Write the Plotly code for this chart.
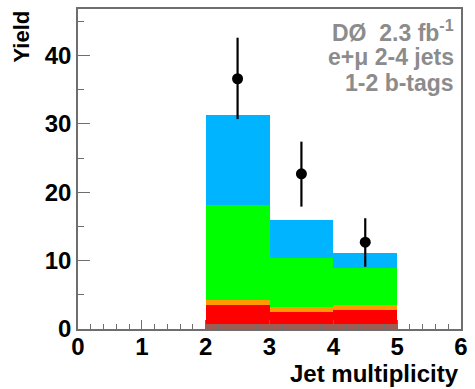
import plotly.graph_objects as go

# Jet multiplicity bins (centres) and bin width
bin_centres = [2.5, 3.5, 4.5]
bin_width = 1.0

# Stacked background/signal components, bottom to top
brown_vals = [0.7, 0.7, 0.7]
red_vals = [2.8, 1.8, 2.15]
orange_vals = [0.7, 0.7, 0.65]
green_vals = [13.9, 7.2, 5.4]
blue_vals = [13.2, 5.6, 2.2]

# Observed data with asymmetric uncertainties
data_vals = [36.6, 22.7, 12.7]
err_up = [6.0, 4.7, 3.5]
err_down = [5.9, 4.8, 3.6]

x_ticks = [0, 1, 2, 3, 4, 5, 6]
y_ticks = [0, 10, 20, 30, 40]

components = [
    (brown_vals, "#9c5d55"),
    (red_vals, "#ff0000"),
    (orange_vals, "#ff9a00"),
    (green_vals, "#00ff00"),
    (blue_vals, "#00b4ff"),
]

fig = go.Figure()
for vals, col in components:
    fig.add_trace(go.Bar(
        x=bin_centres, y=vals, width=bin_width,
        marker=dict(color=col, line=dict(width=0)),
        showlegend=False,
    ))

fig.add_trace(go.Scatter(
    x=bin_centres, y=data_vals, mode="markers",
    marker=dict(color="black", size=11),
    error_y=dict(type="data", array=err_up, arrayminus=err_down,
                 color="black", thickness=2.2, width=0),
    showlegend=False,
))

font_fam = "Liberation Sans, Arial, sans-serif"
axis_col = "#6e6e6e"

fig.update_layout(
    barmode="stack",
    bargap=0,
    width=475, height=389,
    margin=dict(l=78, r=8, t=7, b=60),
    paper_bgcolor="white",
    plot_bgcolor="white",
    font=dict(family=font_fam, color="black"),
    xaxis=dict(
        range=[0, 6], tickvals=x_ticks, ticktext=[str(v) for v in x_ticks],
        ticks="inside", ticklen=9, tickwidth=1.2, tickcolor=axis_col,
        minor=dict(ticks="inside", dtick=0.2, ticklen=5, tickcolor=axis_col),
        showline=True, linecolor=axis_col, linewidth=1.5, mirror=True,
        showgrid=False, zeroline=False, ticklabelstandoff=-5,
        tickfont=dict(size=24, family=font_fam, weight="bold", color="black"),
    ),
    yaxis=dict(
        range=[0, 46.8], tickvals=y_ticks, ticktext=[str(v) for v in y_ticks],
        ticks="inside", ticklen=12, tickwidth=1.2, tickcolor=axis_col,
        minor=dict(ticks="inside", dtick=5, ticklen=6, tickcolor=axis_col),
        showline=True, linecolor=axis_col, linewidth=1.5, mirror=True,
        showgrid=False, zeroline=False,
        tickfont=dict(size=24, family=font_fam, weight="bold", color="black"),
    ),
)

# Axis titles
fig.add_annotation(
    text="Jet multiplicity", xref="paper", yref="paper",
    x=1.0, y=-0.14, xanchor="right", yanchor="middle", showarrow=False,
    font=dict(size=24, family=font_fam, weight="bold", color="black"),
)
fig.add_annotation(
    text="Yield", xref="paper", yref="paper",
    x=-0.15, y=1.0, xanchor="center", yanchor="top", textangle=-90,
    showarrow=False,
    font=dict(size=22, family=font_fam, weight="bold", color="black"),
)

# Experiment label block
label_lines = ["DØ  2.3 fb<sup>-1</sup>", "e+μ 2-4 jets", "1-2 b-tags"]
label_y = [43.6, 39.8, 36.0]
for txt, yy in zip(label_lines, label_y):
    fig.add_annotation(
        text=txt, xref="paper", yref="y",
        x=0.987, y=yy, xanchor="right", yanchor="middle", showarrow=False,
        font=dict(size=23, family=font_fam, weight="bold", color="#8c8c8c"),
    )

fig.write_html("out.html")
